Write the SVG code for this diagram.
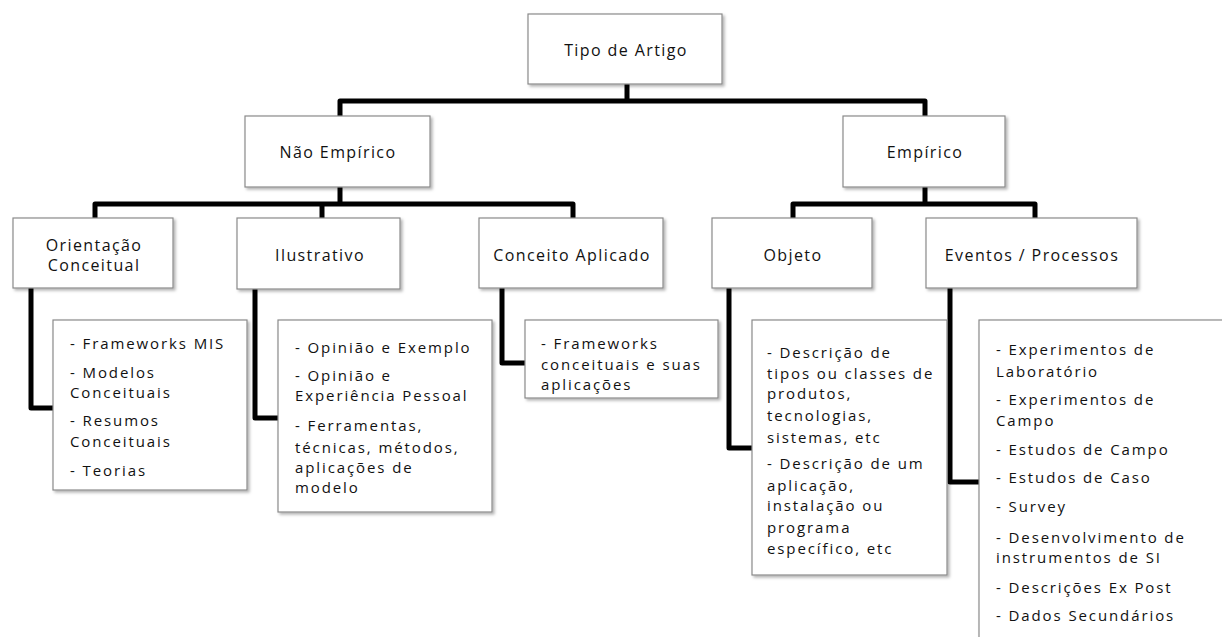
<svg xmlns="http://www.w3.org/2000/svg" width="1222" height="637" viewBox="0 0 1222 637">
<defs>
<filter id="sh" x="-10%" y="-10%" width="130%" height="130%">
<feDropShadow dx="2" dy="2" stdDeviation="1.5" flood-color="#000" flood-opacity="0.3"/>
</filter>
</defs>
<style>
.box{fill:#fff;stroke:#8a8a8a;stroke-width:1.2;filter:url(#sh)}
.lbl{font-family:"Open Sans","Liberation Sans",sans-serif;font-size:16px;fill:#111;text-anchor:middle;letter-spacing:1.4px}
.txt{font-family:"Open Sans","Liberation Sans",sans-serif;font-size:15px;fill:#111;letter-spacing:1.9px}
.con{fill:none;stroke:#000;stroke-width:5;stroke-linejoin:round}
</style>
<rect width="1222" height="637" fill="#fff"/>
<g id="connectors">
<path class="con" d="M627,84 V101"/>
<path class="con" d="M340,116 V101 H925 V116"/>
<path class="con" d="M340,187 V204"/>
<path class="con" d="M95,218 V204 H573 V218"/>
<path class="con" d="M322,204 V218"/>
<path class="con" d="M925,187 V204"/>
<path class="con" d="M793,218 V204 H1035 V218"/>
<path class="con" d="M31,288 V408 H53"/>
<path class="con" d="M255,289 V418 H278"/>
<path class="con" d="M502,288 V363 H525"/>
<path class="con" d="M729,288 V448 H752"/>
<path class="con" d="M950,288 V482 H979"/>
</g>
<g id="tipo">
<rect class="box" x="528" y="14" width="194" height="70"/>
<text class="lbl" x="626" y="56">Tipo de Artigo</text>
</g>
<g id="nao-empirico">
<rect class="box" x="245" y="116" width="185" height="71"/>
<text class="lbl" x="338" y="158">Não Empírico</text>
</g>
<g id="empirico">
<rect class="box" x="843" y="116" width="162" height="71"/>
<text class="lbl" x="925" y="158">Empírico</text>
</g>
<g id="orientacao">
<rect class="box" x="13" y="218" width="160" height="70"/>
<text class="lbl" x="94" y="251">Orientação</text>
<text class="lbl" x="94" y="271">Conceitual</text>
</g>
<g id="ilustrativo">
<rect class="box" x="237" y="218" width="163" height="71"/>
<text class="lbl" x="320" y="261">Ilustrativo</text>
</g>
<g id="conceito-aplicado">
<rect class="box" x="479" y="218" width="184" height="70"/>
<text class="lbl" x="572" y="261">Conceito Aplicado</text>
</g>
<g id="objeto">
<rect class="box" x="712" y="218" width="160" height="70"/>
<text class="lbl" x="793" y="261">Objeto</text>
</g>
<g id="eventos">
<rect class="box" x="926" y="218" width="211" height="70"/>
<text class="lbl" x="1032" y="261">Eventos / Processos</text>
</g>
<g id="orientacao-itens">
<rect class="box" x="53" y="320" width="194" height="170"/>
<text class="txt" x="70" y="349">- Frameworks MIS</text>
<text class="txt" x="70" y="378">- Modelos</text>
<text class="txt" x="70" y="398">Conceituais</text>
<text class="txt" x="70" y="426">- Resumos</text>
<text class="txt" x="70" y="447">Conceituais</text>
<text class="txt" x="70" y="476">- Teorias</text>
</g>
<g id="ilustrativo-itens">
<rect class="box" x="278" y="320" width="214" height="192"/>
<text class="txt" x="295" y="353">- Opinião e Exemplo</text>
<text class="txt" x="295" y="381">- Opinião e</text>
<text class="txt" x="295" y="401">Experiência Pessoal</text>
<text class="txt" x="295" y="431">- Ferramentas,</text>
<text class="txt" x="295" y="453">técnicas, métodos,</text>
<text class="txt" x="295" y="473">aplicações de</text>
<text class="txt" x="295" y="493">modelo</text>
</g>
<g id="conceito-itens">
<rect class="box" x="525" y="320" width="193" height="78"/>
<text class="txt" x="541" y="349">- Frameworks</text>
<text class="txt" x="541" y="370">conceituais e suas</text>
<text class="txt" x="541" y="390">aplicações</text>
</g>
<g id="objeto-itens">
<rect class="box" x="752" y="320" width="195" height="255"/>
<text class="txt" x="767" y="358">- Descrição de</text>
<text class="txt" x="767" y="379">tipos ou classes de</text>
<text class="txt" x="767" y="399">produtos,</text>
<text class="txt" x="767" y="421">tecnologias,</text>
<text class="txt" x="767" y="443">sistemas, etc</text>
<text class="txt" x="767" y="469">- Descrição de um</text>
<text class="txt" x="767" y="491">aplicação,</text>
<text class="txt" x="767" y="511">instalação ou</text>
<text class="txt" x="767" y="533">programa</text>
<text class="txt" x="767" y="554">específico, etc</text>
</g>
<g id="eventos-itens">
<rect class="box" x="979" y="320" width="260" height="330"/>
<text class="txt" x="996" y="355">- Experimentos de</text>
<text class="txt" x="996" y="377">Laboratório</text>
<text class="txt" x="996" y="405">-  Experimentos de</text>
<text class="txt" x="996" y="426">Campo</text>
<text class="txt" x="996" y="455">- Estudos de Campo</text>
<text class="txt" x="996" y="483">- Estudos de Caso</text>
<text class="txt" x="996" y="512">- Survey</text>
<text class="txt" x="996" y="543">- Desenvolvimento de</text>
<text class="txt" x="996" y="563">instrumentos de SI</text>
<text class="txt" x="996" y="593">- Descrições Ex Post</text>
<text class="txt" x="996" y="621">- Dados Secundários</text>
</g>
</svg>
